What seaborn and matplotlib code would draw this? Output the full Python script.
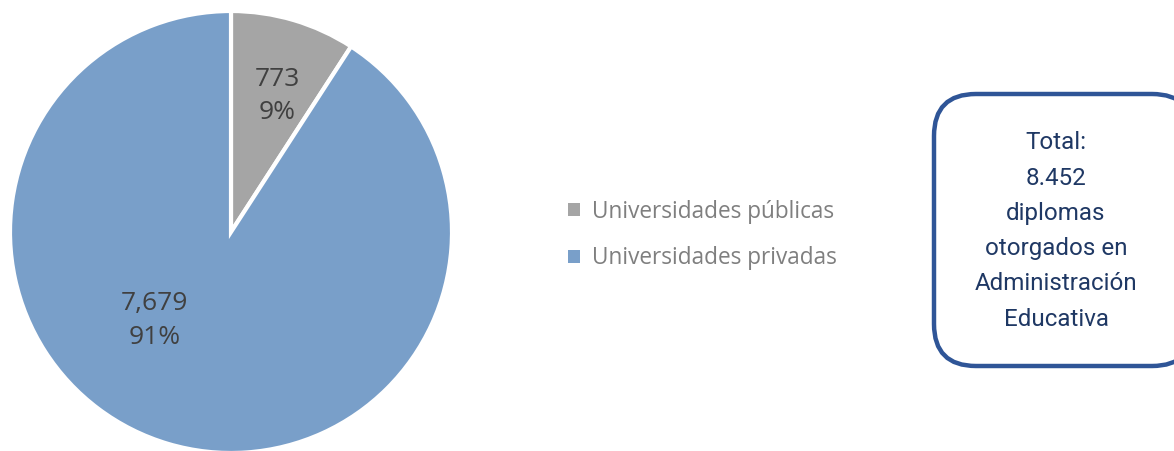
import matplotlib
matplotlib.use("Agg")
import matplotlib.pyplot as plt
import seaborn as sns
from matplotlib.patches import FancyBboxPatch, Patch
import numpy as np

categories = ["Universidades públicas", "Universidades privadas"]
values = [773, 7679]
colors = ["#A5A5A5", "#799FC9"]
box_text = "Total:\n8.452\ndiplomas\notorgados en\nAdministración\nEducativa"

sns.set_theme(style="white")
plt.rcParams['font.family'] = ['Open Sans', 'DejaVu Sans']

W, H = 1174, 451
fig = plt.figure(figsize=(W / 100, H / 100), dpi=100)

# pie axes (pixel placement)
cx, cy, r = 231, 232, 221
ax = fig.add_axes([(cx - r) / W, (H - cy - r) / H, 2 * r / W, 2 * r / H])
wedges, _ = ax.pie(values, colors=colors, startangle=90, counterclock=False,
                   wedgeprops=dict(edgecolor="white", linewidth=3))
ax.set_xlim(-1, 1)
ax.set_ylim(-1, 1)
ax.set_aspect("equal")
ax.axis("off")

total = sum(values)
label_pos = [(0.21, 0.615), (-0.345, -0.40)]
for v, (x, y) in zip(values, label_pos):
    ax.text(x, y, f"{v:,}\n{v / total:.0%}", ha="center", va="center",
            fontsize=19, color="#404040", linespacing=1.45)

# legend
handles = [Patch(facecolor=c, edgecolor="none") for c in colors]
fig.legend(handles, categories, loc="center left",
           bbox_to_anchor=(548 / W, 1 - 235 / H), frameon=False,
           fontsize=16.3, labelcolor="#7F7F7F", handlelength=0.5,
           handleheight=0.5, handletextpad=0.55, labelspacing=0.98)

# rounded text box
bax = fig.add_axes([0, 0, 1, 1])
bax.set_xlim(0, W)
bax.set_ylim(H, 0)
bax.axis("off")
box = FancyBboxPatch((934, 94), 260, 272,
                     boxstyle="round,pad=0,rounding_size=42",
                     facecolor="white", edgecolor="#2F5597", linewidth=3.2)
bax.add_patch(box)
bax.text(1056, 231, box_text, ha="center", va="center", fontsize=17.4,
         color="#1F3864", linespacing=1.68, family=["Roboto", "DejaVu Sans"])

fig.savefig("out.png", dpi=100)
